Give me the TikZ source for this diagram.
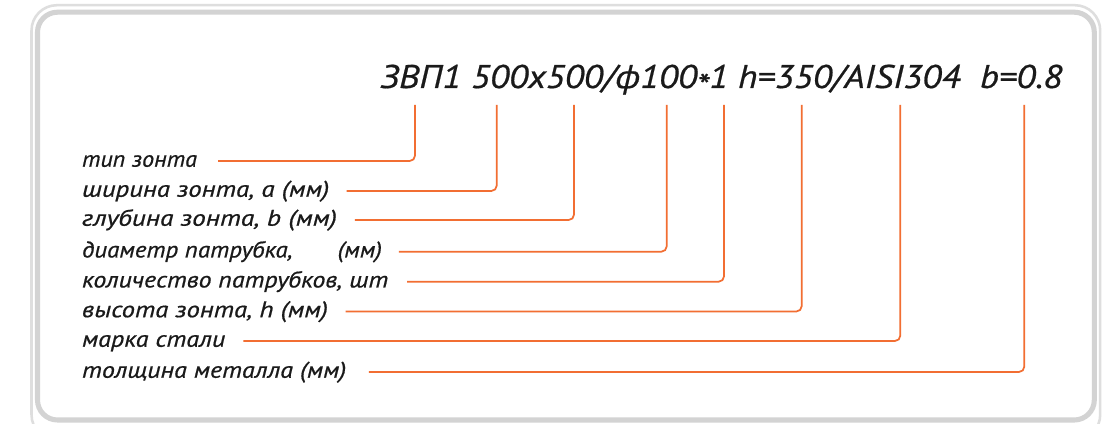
\documentclass[tikz,border=0pt]{standalone}
\usepackage{fontspec}
\setmainfont{PT Sans}[ItalicFeatures={FakeBold=0.6}]
\definecolor{conn}{HTML}{F26E32}
\definecolor{ink}{HTML}{1A1A1A}
\definecolor{frameout}{HTML}{DEDEDE}
\definecolor{framein}{HTML}{D3D3D3}
\newlength\fitlen
\newcommand\fitto[2]{\settowidth\fitlen{#2}\pgfmathsetmacro\fitsc{(#1)*0.75/\fitlen}\scalebox{\fitsc}[1]{#2}}
\begin{document}
\begin{tikzpicture}[x=0.75pt,y=-0.75pt,
  lbl/.style={anchor=west, inner sep=0pt, text height=8.6pt, text depth=0pt,
    font=\itshape\fontsize{17}{20}\selectfont, text=ink},
  title/.style={anchor=base west, inner sep=0pt,
    font=\itshape\fontsize{24.6}{28}\selectfont, text=ink},
  conn/.style={draw=conn, line width=1.3pt, rounded corners=4pt}]
\clip (0,0) rectangle (1109,424);
\fill[white] (0,0) rectangle (1109,424);
% frame
\draw[frameout, line width=1.9pt, rounded corners=19pt] (31.5,5.2) rectangle (1100.2,440);
\draw[framein, line width=3.8pt, rounded corners=15pt] (37.5,12.2) rectangle (1094.3,420);
% title
\node[title] (code) at (380,88) {\fitto{682}{ЗВП1 500x500/ф100\raisebox{-0.28em}{*}1 h=350/AISI304\ \ b=0.8}};
% tops of leaders
\coordinate (t1) at (415,105);
\coordinate (t2) at (496.7,105);
\coordinate (t3) at (574,105);
\coordinate (t4) at (666.7,105);
\coordinate (t5) at (724,105);
\coordinate (t6) at (801.7,105);
\coordinate (t7) at (900.3,105);
\coordinate (t8) at (1024.3,105);
% labels
\node[lbl] (l1) at (81.7,161) {\fitto{115}{тип зонта}};
\node[lbl] (l2) at (81.7,191) {\fitto{247.3}{ширина зонта, а (мм)}};
\node[lbl] (l3) at (81.7,220) {\fitto{255}{глубина зонта, b (мм)}};
\node[lbl] (l4) at (81.7,251.7) {\fitto{300}{диаметр патрубка,\hspace{1.8em}(мм)}};
\node[lbl] (l5) at (81.7,281.7) {\fitto{306.3}{количество патрубков, шт}};
\node[lbl] (l6) at (81.7,311.5) {\fitto{246}{высота зонта, h (мм)}};
\node[lbl] (l7) at (81.7,341) {\fitto{143.3}{марка стали}};
\node[lbl] (l8) at (81.7,372) {\fitto{264.3}{толщина металла (мм)}};
% connectors
\draw[conn] ([xshift=15.75pt]l1.east) -| (t1);
\draw[conn] ([xshift=12.75pt]l2.east) -| (t2);
\draw[conn] ([xshift=13.2pt]l3.east) -| (t3);
\draw[conn] ([xshift=12.45pt]l4.east) -| (t4);
\draw[conn] ([xshift=14pt]l5.east) -| (t5);
\draw[conn] ([xshift=13pt]l6.east) -| (t6);
\draw[conn] ([xshift=13.3pt]l7.east) -| (t7);
\draw[conn] ([xshift=16.7pt]l8.east) -| (t8);
\end{tikzpicture}
\end{document}
